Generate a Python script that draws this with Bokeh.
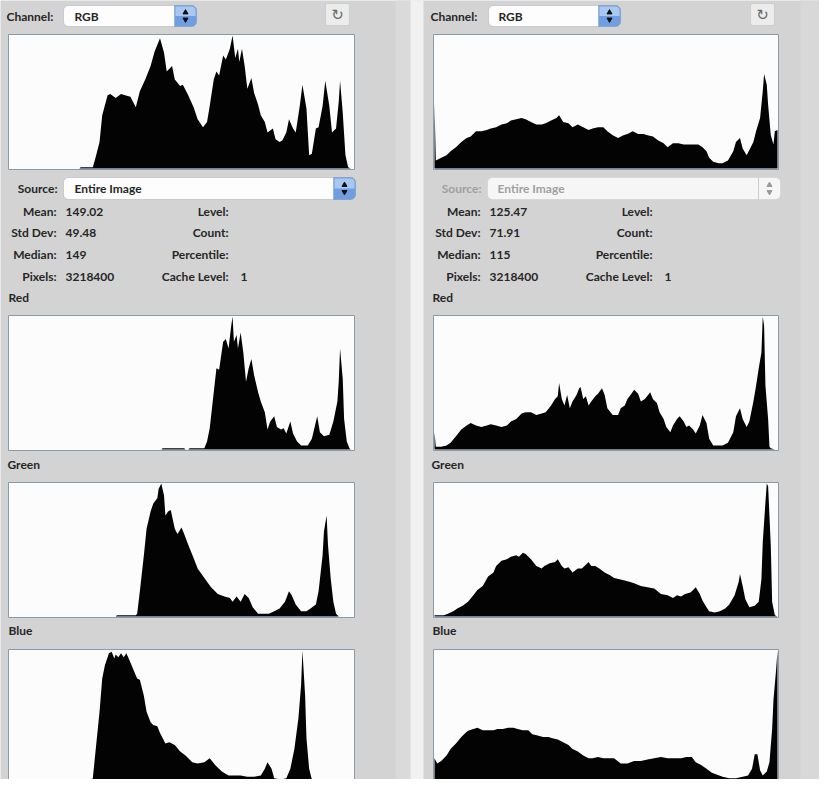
from bokeh.plotting import figure
from bokeh.models import Range1d, BoxAnnotation
from bokeh.embed import file_html
from bokeh.resources import INLINE
from bokeh.core.properties import value

# ---------------- data (levels 0..256, counts as % of each histogram's peak) ----------------
L_RGB_LEVELS = [0, 52, 53, 62, 64, 67, 69, 73, 75, 79, 83, 86, 90, 94, 97, 101, 105, 108, 112, 115, 117, 121, 123, 127,
                129, 133, 137, 140, 144, 147, 149, 152, 154, 156, 159, 161, 164, 166, 168, 170, 171, 173, 175, 177, 180,
                182, 185, 187, 190, 192, 196, 198, 201, 203, 206, 208, 211, 213, 216, 218, 221, 223, 225, 228, 230, 233,
                235, 238, 240, 243, 245, 246, 248, 250, 252, 254, 256]
L_RGB_COUNTS = [0, 0, 1, 1, 8, 20, 40, 55, 56, 53, 56, 55, 54, 46, 58, 67, 77, 88, 98, 87, 73, 77, 67, 62,
                63, 55, 46, 37, 31, 35, 47, 67, 73, 70, 85, 82, 90, 100, 83, 90, 80, 90, 77, 60, 68,
                57, 48, 40, 35, 27, 30, 22, 20, 21, 27, 37, 30, 27, 47, 63, 45, 10, 11, 30, 31, 47,
                66, 47, 27, 30, 50, 66, 42, 10, 1, 0, 0]

L_RED_LEVELS = [0, 113, 114, 130, 131, 133, 134, 145, 147, 149, 152, 154, 156, 159, 161, 163, 165, 166, 167, 169, 170,
                172, 174, 176, 178, 180, 182, 185, 187, 190, 192, 194, 197, 199, 202, 204, 206, 209, 211, 214, 217, 222,
                225, 229, 231, 234, 238, 241, 244, 245, 246, 248, 249, 251, 253, 254, 256]
L_RED_COUNTS = [0, 0, 1, 1, 0, 0, 1, 1, 6, 16, 43, 61, 60, 81, 83, 76, 93, 100, 81, 86, 76,
                88, 73, 51, 61, 68, 56, 43, 36, 28, 15, 21, 25, 17, 15, 16, 12, 21, 12, 6, 3, 3,
                8, 25, 13, 10, 11, 21, 36, 51, 76, 53, 23, 6, 1, 0, 0]

L_GREEN_LEVELS = [0, 79, 80, 94, 95, 97, 100, 102, 105, 107, 110, 111, 113, 115, 116, 118, 120, 123, 125, 128, 130,
                  133, 137, 140, 145, 150, 155, 160, 164, 166, 169, 172, 175, 178, 181, 185, 190, 193, 197, 201, 205,
                  208, 210, 213, 217, 221, 224, 228, 230, 233, 234, 236, 237, 239, 241, 243, 245, 256]
L_GREEN_COUNTS = [0, 0, 1, 1, 2, 19, 46, 66, 79, 85, 89, 96, 100, 91, 76, 79, 80, 66, 62, 67, 62,
                  54, 44, 36, 29, 22, 17, 15, 14, 11, 15, 11, 17, 14, 7, 2, 2, 2, 4, 6, 11,
                  19, 16, 9, 4, 4, 6, 9, 19, 46, 64, 76, 54, 29, 11, 2, 0, 0]

L_BLUE_LEVELS = [0, 53, 54, 60, 62, 64, 67, 69, 71, 74, 76, 78, 79, 81, 83, 85, 87, 90, 92, 95, 97, 100, 102, 105,
                 107, 110, 112, 116, 119, 123, 127, 131, 136, 140, 145, 149, 153, 158, 163, 168, 172, 177, 182, 187,
                 190, 192, 195, 197, 202, 206, 209, 212, 215, 217, 218, 220, 221, 223, 225, 228, 230, 256]
L_BLUE_COUNTS = [0, 0, 1, 1, 4, 24, 54, 79, 89, 98, 99, 94, 97, 95, 98, 95, 98, 91, 86, 79, 78, 66, 54, 46,
                 44, 43, 38, 30, 31, 29, 24, 21, 16, 15, 16, 19, 14, 9, 6, 6, 6, 5, 5, 6,
                 11, 16, 11, 4, 3, 4, 11, 26, 49, 74, 100, 66, 34, 11, 3, 1, 0, 0]

R_RGB_LEVELS = [0, 1, 5, 9, 12, 16, 20, 24, 27, 31, 35, 39, 42, 46, 50, 54, 57, 61, 65, 68, 72, 76, 80, 83, 87, 91,
                93, 96, 100, 103, 107, 111, 115, 118, 122, 126, 129, 133, 137, 141, 144, 148, 152, 156, 159, 163, 167,
                171, 174, 178, 182, 186, 189, 193, 197, 200, 203, 205, 208, 212, 215, 219, 223, 225, 228, 230, 233,
                235, 238, 240, 243, 245, 246, 248, 249, 251, 253, 254, 256]
R_RGB_COUNTS = [49, 6, 8, 10, 13, 16, 20, 23, 24, 28, 28, 29, 30, 31, 33, 34, 36, 37, 38, 37, 35, 33, 33, 34, 36, 38,
                40, 35, 34, 31, 33, 31, 29, 30, 31, 31, 28, 25, 23, 25, 26, 28, 26, 26, 25, 24, 21,
                19, 16, 19, 19, 18, 18, 18, 18, 16, 13, 8, 5, 4, 4, 6, 13, 20, 23, 15, 10,
                14, 20, 28, 38, 58, 71, 63, 48, 25, 18, 28, 29]

R_RED_LEVELS = [0, 1, 5, 9, 12, 16, 20, 24, 27, 31, 35, 39, 42, 46, 50, 54, 57, 61, 65, 68, 72, 76, 80, 83, 87, 90,
                92, 93, 95, 97, 99, 101, 103, 106, 108, 109, 111, 113, 115, 117, 120, 122, 125, 127, 129, 133, 137,
                139, 142, 144, 147, 149, 152, 154, 157, 161, 163, 166, 168, 171, 173, 176, 178, 181, 183, 186, 188,
                190, 193, 195, 198, 200, 203, 205, 208, 212, 215, 219, 223, 225, 228, 230, 233, 235, 238, 240, 242,
                244, 245, 246, 247, 249, 250, 251, 254, 256]
R_RED_COUNTS = [13, 2, 2, 3, 5, 10, 15, 18, 20, 18, 17, 18, 19, 18, 17, 18, 21, 23, 27, 28, 28, 26, 27, 28, 33, 38,
                40, 50, 38, 33, 41, 31, 36, 41, 46, 47, 38, 40, 33, 36, 40, 42, 46, 41, 31, 26, 26,
                31, 33, 38, 42, 45, 42, 36, 38, 43, 38, 35, 28, 23, 17, 13, 18, 23, 25, 21, 17,
                18, 15, 12, 18, 26, 20, 8, 3, 3, 3, 5, 13, 25, 31, 23, 17, 21, 36, 48, 61,
                73, 100, 93, 48, 23, 2, 1, 0, 0]

R_GREEN_LEVELS = [0, 7, 10, 14, 17, 21, 25, 29, 32, 36, 40, 44, 46, 50, 54, 57, 61, 63, 66, 68, 72, 76, 80, 82, 86,
                  90, 92, 95, 97, 100, 103, 107, 110, 112, 115, 117, 120, 123, 127, 131, 134, 138, 142, 146, 149, 154,
                  159, 164, 169, 174, 178, 181, 184, 187, 191, 193, 195, 198, 200, 203, 205, 209, 213, 217, 220, 224,
                  227, 228, 230, 232, 235, 239, 242, 244, 245, 247, 248, 249, 251, 252, 254, 256]
R_GREEN_COUNTS = [1, 1, 2, 4, 6, 8, 11, 16, 20, 23, 30, 33, 38, 42, 43, 45, 46, 45, 48, 47, 43, 38, 36, 38, 40,
                  41, 43, 38, 36, 37, 33, 36, 36, 38, 41, 38, 38, 36, 33, 31, 29, 28, 27, 26, 25, 23,
                  22, 21, 17, 16, 14, 16, 15, 17, 18, 20, 22, 17, 12, 7, 4, 3, 4, 6, 9, 16,
                  26, 32, 23, 13, 7, 8, 11, 28, 56, 86, 100, 98, 53, 11, 1, 0]

R_BLUE_LEVELS = [0, 2, 5, 9, 12, 16, 20, 24, 26, 29, 32, 36, 40, 44, 47, 51, 55, 59, 62, 66, 70, 73, 77, 81, 85, 88,
                 92, 96, 100, 103, 107, 111, 115, 118, 122, 126, 129, 134, 139, 144, 149, 154, 159, 164, 169, 174, 179,
                 184, 188, 192, 195, 199, 203, 207, 210, 215, 220, 225, 230, 234, 237, 239, 241, 243, 245, 248, 250,
                 252, 253, 255, 256]
R_BLUE_COUNTS = [19, 15, 17, 21, 26, 30, 35, 39, 40, 41, 42, 40, 40, 40, 41, 41, 42, 42, 41, 40, 40, 37, 36, 35, 35, 34,
                 33, 31, 29, 26, 24, 21, 19, 19, 20, 19, 19, 19, 15, 15, 17, 17, 18, 19, 20, 19, 19,
                 19, 20, 20, 16, 14, 11, 8, 7, 5, 4, 4, 5, 6, 11, 22, 22, 10, 6, 9, 16,
                 41, 63, 86, 100]

STAT_LABELS = ["Mean:", "Std Dev:", "Median:", "Pixels:"]
STAT_LABELS_2 = ["Level:", "Count:", "Percentile:", "Cache Level:"]
LEFT_STATS = ["149.02", "49.48", "149", "3218400"]
RIGHT_STATS = ["125.47", "71.91", "115", "3218400"]
CACHE_LEVEL = "1"
CHANNEL_NAMES = ["Red", "Green", "Blue"]

# ---------------- layout (screen pixels of the original picture) ----------------
PX0, PX1, PY0, PY1, H = 8, 827, 8, 787, 795
PANEL = "#d3d3d3"
TEXT = "#262626"
GREY_TEXT = "#a0a0a0"
FONT = value("Lato")
FSIZE = "12px"

def Y(py):
    return H - py

p = figure(width=819, height=779, x_range=Range1d(PX0, PX1), y_range=Range1d(Y(PY1), Y(PY0)),
           x_axis_type=None, y_axis_type=None, output_backend="svg", toolbar_location=None,
           min_border=0, background_fill_color=PANEL, border_fill_color=PANEL, outline_line_color=None)

# separator strip between the two panels and lighter right edges
for l, r, c in [(403, 418, "#dadada"), (418, 431, "#f1f1f1"), (808, 835, "#d8d8d8")]:
    p.add_layout(BoxAnnotation(left=l, right=r, top=Y(0), bottom=Y(800), fill_color=c, fill_alpha=1,
                               line_color=None, level="underlay"))

COLS = {"L": (16, 362), "R": (441, 786)}
ROWS = {"top": (42, 177), "red": (323, 458), "green": (490, 625), "blue": (657, 792)}

xr = {}
for k, (a, b) in COLS.items():
    a, b = a + 1, b - 1
    s = 256.0 / (b - a)
    xr[k] = Range1d(start=-(a - PX0) * s, end=256 + (PX1 - b) * s)
yr = {}
for k, (t, bt) in ROWS.items():
    t, bt = t + 1, bt - 1
    s = 100.0 / (bt - t)
    yr[k] = Range1d(start=-(PY1 - bt) * s, end=100 + (t - PY0) * s)
p.extra_x_ranges = xr
p.extra_y_ranges = yr

# histogram frames
lefts, rights, tops, bottoms = [], [], [], []
for (a, b) in COLS.values():
    for (t, bt) in ROWS.values():
        lefts.append(a); rights.append(b); tops.append(Y(t)); bottoms.append(Y(bt))
p.quad(left=lefts, right=rights, top=tops, bottom=bottoms, fill_color="#fcfcfc",
       line_color="#8b9aa8", line_width=1)

HISTS = [
    ("L", "top", L_RGB_LEVELS, L_RGB_COUNTS), ("L", "red", L_RED_LEVELS, L_RED_COUNTS),
    ("L", "green", L_GREEN_LEVELS, L_GREEN_COUNTS), ("L", "blue", L_BLUE_LEVELS, L_BLUE_COUNTS),
    ("R", "top", R_RGB_LEVELS, R_RGB_COUNTS), ("R", "red", R_RED_LEVELS, R_RED_COUNTS),
    ("R", "green", R_GREEN_LEVELS, R_GREEN_COUNTS), ("R", "blue", R_BLUE_LEVELS, R_BLUE_COUNTS),
]
for col, row, lv, ct in HISTS:
    p.varea(x=lv, y1=0, y2=ct, fill_color="#030303", x_range_name=col, y_range_name=row)


def box(l, r, t, b, fill, line, radius=5):
    p.add_layout(BoxAnnotation(left=l, right=r, top=Y(t), bottom=Y(b), fill_color=fill, fill_alpha=1,
                               line_color=line, line_width=1, border_radius=radius, level="underlay"))


def text(xs, pys, strs, align="left", color=TEXT, size=FSIZE, style="bold"):
    p.text(x=xs, y=[Y(v) for v in pys], text=strs, text_align=align, text_baseline="middle",
           text_font=FONT, text_font_size=size, text_color=color, text_font_style=style)


def dropdown(l, r, t, b, end_w, active=True):
    if active:
        box(l, r, t, b, "#fdfdfd", "#7f8c98")
        box(r - end_w, r, t, b, "#6f9ee2", "#5b7fb0", radius=(0, 5, 5, 0))
        box(r - end_w + 1, r - 1, t + 1, (t + b) / 2, "#a9c8f1", None, radius=(0, 4, 0, 0))
        ax = r - end_w / 2
        p.scatter([ax], [Y((t + b) / 2 - 3.5)], marker="triangle", size=5, color="#101010")
        p.scatter([ax], [Y((t + b) / 2 + 3.5)], marker="inverted_triangle", size=5, color="#101010")
    else:
        box(l, r, t, b, "#f6f6f6", "#b7bdc3")
        p.segment([r - end_w], [Y(t)], [r - end_w], [Y(b)], line_color="#c8cdd2")
        ax = r - end_w / 2
        p.scatter([ax], [Y((t + b) / 2 - 3.5)], marker="triangle", size=5, color="#9a9a9a")
        p.scatter([ax], [Y((t + b) / 2 + 3.5)], marker="inverted_triangle", size=5, color="#9a9a9a")


# ---- left panel chrome
dropdown(71, 204, 13, 34, 22)
dropdown(71, 363, 185, 207, 22)
box(333, 357, 11, 33, "#ececec", "#a0a5aa", radius=2)
p.text(x=[345], y=[Y(22)], text=["\u21bb"], text_align="center", text_baseline="middle",
       text_font=value("DejaVu Sans"), text_font_size="15px", text_color="#6a6a6a")
text([14], [24], ["Channel:"])
text([82], [24], ["RGB"])
text([65], [196], ["Source:"], align="right")
text([82], [196], ["Entire Image"])

# ---- right panel chrome
dropdown(496, 628, 13, 34, 22)
dropdown(495, 788, 185, 207, 22, active=False)
box(758, 782, 11, 33, "#ececec", "#a0a5aa", radius=2)
p.text(x=[770], y=[Y(22)], text=["\u21bb"], text_align="center", text_baseline="middle",
       text_font=value("DejaVu Sans"), text_font_size="15px", text_color="#6a6a6a")
text([438], [24], ["Channel:"])
text([506], [24], ["RGB"])
text([489], [196], ["Source:"], align="right", color=GREY_TEXT)
text([505], [196], ["Entire Image"], color=GREY_TEXT)

# ---- statistics
ROW_PY = [219, 240, 262, 284]
for lab_x, val_x, lab2_x, one_x, vals in [(64, 73, 236, 248, LEFT_STATS), (488, 497, 660, 672, RIGHT_STATS)]:
    text([lab_x] * 4, ROW_PY, STAT_LABELS, align="right")
    text([val_x] * 4, ROW_PY, vals)
    text([lab2_x] * 4, ROW_PY, STAT_LABELS_2, align="right")
    text([one_x], [ROW_PY[3]], [CACHE_LEVEL])

# ---- channel titles
text([16, 15, 16], [305, 472, 638], CHANNEL_NAMES)
text([440, 439, 440], [305, 472, 638], CHANNEL_NAMES)

open("out.html", "w").write(file_html(p, INLINE))
